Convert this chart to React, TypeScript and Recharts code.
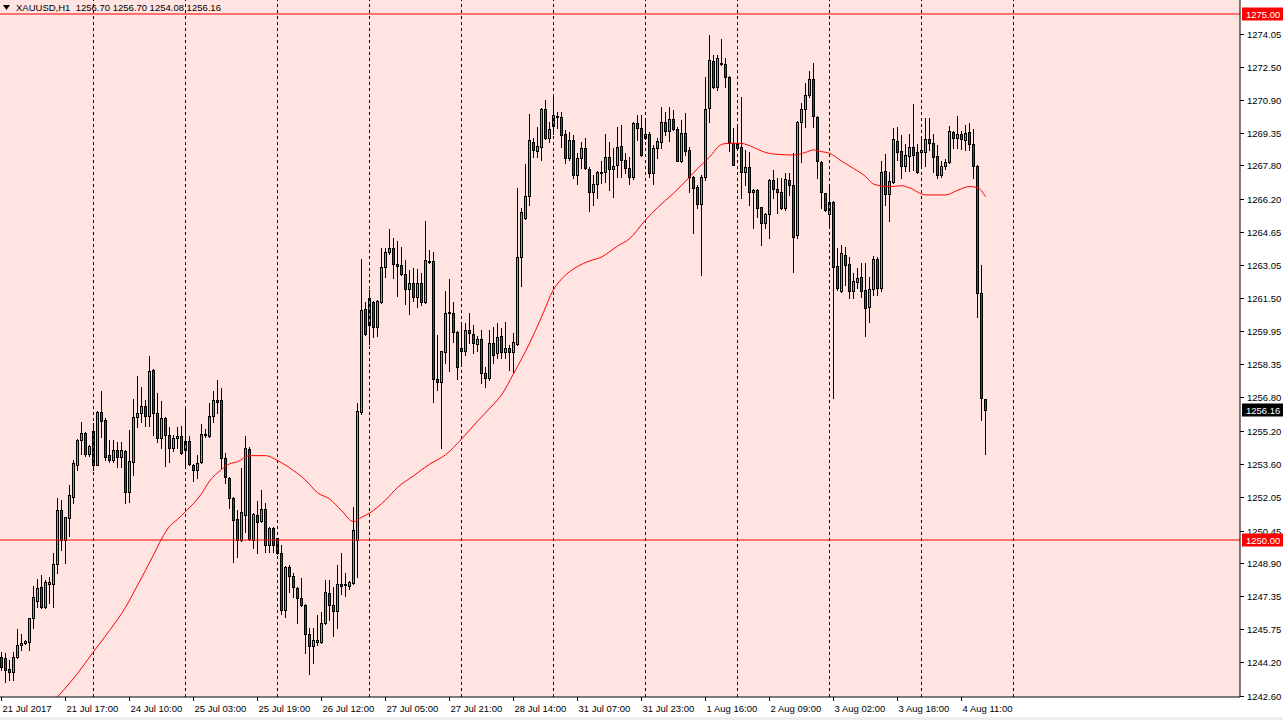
import {
    ComposedChart,
    Bar,
    Line,
    XAxis,
    YAxis,
    CartesianGrid,
    ReferenceLine,
} from "recharts";

// XAUUSD H1 candles (bar 0 = 21 Jul 2017 first bar)
const opens = [
    1244.45, 1244.38, 1243.87, 1243.74, 1244.43, 1245.00, 1245.09, 1245.17, 1246.28, 1247.12,
    1247.75, 1246.80, 1247.90, 1247.90, 1248.85, 1251.43, 1250.00, 1251.05, 1252.06, 1253.58,
    1254.75, 1255.09, 1254.09, 1255.18, 1253.58, 1256.08, 1255.70, 1254.02, 1253.80, 1254.28,
    1253.96, 1254.23, 1252.30, 1253.69, 1255.84, 1256.02, 1256.37, 1255.91, 1258.08, 1256.02,
    1254.83, 1255.80, 1254.99, 1254.35, 1254.83, 1254.94, 1254.28, 1254.73, 1253.56, 1253.31,
    1253.69, 1255.00, 1254.93, 1255.88, 1256.64, 1256.64, 1253.91, 1252.96, 1252.01, 1250.98,
    1250.00, 1251.19, 1254.31, 1250.00, 1251.18, 1250.92, 1251.46, 1249.77, 1250.56, 1250.08,
    1249.37, 1246.68, 1248.74, 1248.29, 1247.71, 1247.23, 1246.91, 1245.52, 1244.97, 1245.17,
    1245.17, 1246.04, 1247.47, 1246.91, 1246.65, 1247.89, 1247.86, 1247.83, 1247.98, 1250.00,
    1256.10, 1260.96, 1260.20, 1261.30, 1260.14, 1261.33, 1262.96, 1263.68, 1263.87, 1263.10,
    1263.07, 1262.63, 1261.92, 1262.20, 1261.54, 1262.20, 1261.33, 1263.26, 1263.26, 1257.64,
    1257.50, 1258.92, 1260.78, 1260.78, 1259.91, 1259.11, 1259.00, 1259.98, 1259.80, 1259.30,
    1259.56, 1257.93, 1257.69, 1259.35, 1258.87, 1259.70, 1258.95, 1259.14, 1258.92, 1259.30,
    1263.47, 1265.32, 1266.37, 1268.90, 1268.49, 1268.69, 1270.48, 1269.09, 1269.69, 1270.14,
    1270.12, 1269.28, 1268.14, 1269.01, 1267.35, 1268.14, 1268.62, 1267.63, 1266.56, 1266.90,
    1267.47, 1267.47, 1268.19, 1267.63, 1267.80, 1268.75, 1268.07, 1267.70, 1267.23, 1269.81,
    1269.57, 1269.10, 1269.29, 1267.43, 1268.62, 1268.94, 1269.86, 1269.44, 1270.00, 1269.52,
    1268.03, 1269.33, 1268.54, 1267.27, 1266.77, 1265.96, 1267.27, 1270.52, 1272.77, 1271.55,
    1272.66, 1272.61, 1272.02, 1268.86, 1268.86, 1268.69, 1267.51, 1267.71, 1266.52, 1266.63,
    1265.81, 1265.08, 1265.51, 1267.11, 1266.68, 1266.52, 1265.76, 1267.11, 1266.87, 1264.50,
    1269.85, 1270.48, 1271.15, 1271.91, 1270.12, 1267.98, 1266.48, 1265.48, 1266.08, 1263.04,
    1261.85, 1263.55, 1263.10, 1261.85, 1262.28, 1262.52, 1261.88, 1261.09, 1261.91, 1263.36,
    1261.99, 1267.54, 1266.43, 1267.00, 1268.96, 1268.49, 1267.79, 1268.27, 1268.70, 1268.43,
    1268.46, 1268.46, 1269.06, 1268.85, 1268.25, 1267.35, 1267.78, 1267.95, 1269.38, 1269.09,
    1269.28, 1269.01, 1269.38, 1268.81, 1267.78, 1261.72, 1256.70,
];

const highs = [
    1244.70, 1244.62, 1244.30, 1244.70, 1245.76, 1245.52, 1245.25, 1246.30, 1247.82, 1248.13,
    1248.34, 1248.10, 1248.26, 1249.40, 1251.98, 1251.90, 1251.09, 1252.61, 1253.80, 1254.78,
    1255.62, 1255.15, 1254.52, 1255.55, 1256.15, 1257.08, 1255.78, 1254.75, 1254.75, 1254.67,
    1254.67, 1254.28, 1255.23, 1256.70, 1257.81, 1257.29, 1256.65, 1258.76, 1258.12, 1256.97,
    1256.60, 1255.86, 1255.38, 1254.99, 1255.38, 1255.43, 1256.33, 1254.96, 1253.60, 1254.04,
    1255.50, 1255.27, 1256.49, 1257.08, 1257.60, 1257.21, 1254.12, 1253.01, 1252.05, 1251.42,
    1253.40, 1254.94, 1254.44, 1251.30, 1251.86, 1252.38, 1251.75, 1250.60, 1250.60, 1250.12,
    1249.77, 1248.78, 1248.82, 1248.42, 1247.78, 1248.19, 1246.95, 1245.81, 1245.81, 1246.44,
    1246.60, 1248.11, 1248.11, 1247.79, 1248.82, 1249.37, 1248.45, 1248.05, 1251.59, 1256.50,
    1263.34, 1261.33, 1261.90, 1261.35, 1261.40, 1263.90, 1263.90, 1264.78, 1264.34, 1264.21,
    1263.94, 1263.31, 1262.84, 1262.92, 1262.87, 1262.68, 1265.17, 1263.79, 1263.68, 1259.75,
    1259.00, 1261.84, 1262.41, 1261.33, 1259.95, 1260.30, 1260.30, 1260.78, 1260.22, 1259.72,
    1259.99, 1258.24, 1259.99, 1260.14, 1260.30, 1260.06, 1260.38, 1259.27, 1259.82, 1266.71,
    1265.76, 1267.86, 1270.23, 1269.09, 1269.65, 1270.52, 1270.91, 1269.88, 1271.15, 1270.36,
    1270.36, 1269.49, 1269.41, 1269.25, 1268.38, 1268.93, 1269.09, 1267.74, 1267.35, 1267.54,
    1268.01, 1269.28, 1268.93, 1268.65, 1269.65, 1269.73, 1268.38, 1268.22, 1269.89, 1270.20,
    1270.20, 1269.97, 1269.38, 1268.78, 1269.09, 1270.60, 1270.36, 1270.60, 1270.44, 1269.65,
    1269.97, 1270.28, 1268.70, 1267.30, 1266.88, 1267.35, 1272.02, 1274.00, 1273.05, 1273.05,
    1273.81, 1272.90, 1272.05, 1269.57, 1269.65, 1271.07, 1268.54, 1268.46, 1266.68, 1266.68,
    1265.85, 1265.52, 1267.15, 1267.58, 1267.22, 1267.19, 1267.43, 1267.43, 1268.38, 1269.90,
    1270.75, 1271.74, 1272.29, 1272.65, 1270.15, 1268.00, 1266.50, 1266.87, 1266.10, 1263.86,
    1264.02, 1263.94, 1263.47, 1262.67, 1262.91, 1263.15, 1263.15, 1262.52, 1263.52, 1263.47,
    1268.01, 1268.33, 1267.51, 1269.60, 1269.65, 1269.25, 1268.80, 1269.28, 1270.71, 1268.80,
    1269.09, 1270.07, 1270.04, 1269.28, 1268.77, 1268.01, 1268.11, 1269.69, 1269.44, 1270.17,
    1269.44, 1269.72, 1269.80, 1269.53, 1267.80, 1263.07, 1256.70,
];

const lows = [
    1243.80, 1243.27, 1243.35, 1243.35, 1244.38, 1244.77, 1245.06, 1244.77, 1245.80, 1246.80,
    1246.78, 1246.78, 1246.99, 1246.80, 1248.42, 1249.53, 1248.89, 1250.21, 1251.78, 1253.33,
    1254.09, 1253.99, 1253.99, 1253.33, 1253.55, 1254.91, 1253.80, 1253.72, 1253.72, 1253.49,
    1253.49, 1251.77, 1251.82, 1253.09, 1255.38, 1255.62, 1255.43, 1255.43, 1254.99, 1254.64,
    1254.39, 1253.53, 1253.72, 1254.23, 1254.35, 1254.10, 1253.56, 1253.56, 1252.80, 1252.93,
    1253.66, 1254.91, 1254.90, 1255.62, 1256.02, 1253.40, 1252.69, 1251.50, 1248.97, 1249.21,
    1249.95, 1250.40, 1249.98, 1249.61, 1249.40, 1250.85, 1249.45, 1249.45, 1249.45, 1249.35,
    1246.49, 1246.33, 1247.51, 1247.30, 1246.04, 1246.86, 1244.62, 1243.64, 1244.14, 1245.01,
    1245.09, 1246.00, 1246.20, 1245.44, 1245.80, 1247.44, 1247.34, 1247.66, 1247.90, 1248.23,
    1256.00, 1259.74, 1259.30, 1259.67, 1259.72, 1261.25, 1262.52, 1263.58, 1262.47, 1261.62,
    1262.60, 1261.20, 1260.73, 1261.36, 1261.09, 1261.17, 1261.28, 1263.15, 1256.55, 1257.13,
    1254.39, 1258.40, 1258.01, 1259.43, 1257.64, 1258.32, 1258.80, 1259.35, 1258.88, 1258.96,
    1257.45, 1257.29, 1257.61, 1258.40, 1258.64, 1258.67, 1258.64, 1258.08, 1258.00, 1259.25,
    1262.09, 1265.25, 1265.92, 1268.22, 1268.22, 1268.06, 1269.05, 1268.93, 1269.28, 1269.57,
    1268.69, 1267.90, 1268.06, 1267.19, 1266.90, 1267.67, 1267.63, 1265.64, 1265.92, 1266.24,
    1266.95, 1267.03, 1266.64, 1266.32, 1267.27, 1267.27, 1267.43, 1266.91, 1267.16, 1269.01,
    1268.25, 1269.05, 1267.27, 1266.91, 1268.14, 1268.62, 1269.25, 1268.97, 1269.49, 1267.99,
    1267.95, 1268.30, 1266.56, 1264.58, 1265.80, 1262.60, 1267.11, 1269.85, 1271.50, 1271.39,
    1272.58, 1271.55, 1268.49, 1267.80, 1268.60, 1266.27, 1266.87, 1265.92, 1264.84, 1265.37,
    1264.02, 1264.81, 1264.37, 1266.24, 1265.53, 1265.73, 1265.68, 1266.40, 1262.75, 1264.37,
    1267.95, 1269.64, 1271.07, 1269.64, 1267.22, 1265.80, 1265.65, 1264.97, 1256.77, 1261.90,
    1261.80, 1262.12, 1261.49, 1261.52, 1261.96, 1261.57, 1259.71, 1260.38, 1261.65, 1261.65,
    1261.84, 1265.92, 1265.16, 1266.95, 1268.06, 1267.22, 1267.54, 1267.54, 1267.59, 1267.43,
    1267.82, 1267.79, 1268.54, 1267.51, 1267.19, 1267.27, 1267.63, 1267.90, 1268.62, 1268.62,
    1268.58, 1268.54, 1268.54, 1267.19, 1260.62, 1255.71, 1254.08,
];

const closes = [
    1243.95, 1243.82, 1243.74, 1244.43, 1245.00, 1245.09, 1245.20, 1246.28, 1247.28, 1247.70,
    1246.80, 1247.99, 1247.99, 1248.85, 1251.43, 1250.00, 1251.09, 1252.12, 1253.66, 1254.75,
    1255.09, 1254.09, 1254.47, 1253.58, 1256.08, 1255.67, 1253.96, 1253.80, 1254.28, 1253.96,
    1254.28, 1252.30, 1253.75, 1255.84, 1256.02, 1256.37, 1255.91, 1258.03, 1256.02, 1254.83,
    1255.80, 1254.99, 1254.35, 1254.83, 1254.94, 1254.12, 1254.73, 1253.59, 1253.31, 1253.64,
    1255.02, 1255.05, 1255.88, 1256.64, 1256.54, 1253.88, 1253.01, 1252.01, 1250.93, 1250.00,
    1251.31, 1254.39, 1250.05, 1251.24, 1250.87, 1251.46, 1249.77, 1250.56, 1249.77, 1249.37,
    1246.68, 1248.74, 1248.29, 1247.75, 1247.23, 1246.91, 1245.52, 1244.97, 1245.25, 1245.25,
    1246.04, 1247.52, 1246.91, 1246.65, 1247.89, 1247.83, 1247.90, 1248.01, 1250.48, 1256.15,
    1260.93, 1259.78, 1261.50, 1260.11, 1261.36, 1262.96, 1263.68, 1263.87, 1263.10, 1263.04,
    1262.63, 1261.92, 1262.23, 1261.54, 1262.20, 1261.33, 1263.31, 1263.20, 1257.64, 1257.50,
    1258.96, 1260.78, 1260.83, 1259.87, 1258.24, 1259.00, 1259.98, 1259.83, 1259.35, 1259.56,
    1257.93, 1257.69, 1259.35, 1258.80, 1259.67, 1258.95, 1259.14, 1258.92, 1259.40, 1263.44,
    1265.57, 1266.37, 1269.01, 1268.54, 1268.73, 1270.48, 1269.09, 1269.53, 1270.20, 1270.09,
    1269.25, 1268.14, 1269.01, 1267.35, 1268.14, 1268.62, 1267.67, 1266.56, 1266.90, 1267.47,
    1267.43, 1268.19, 1267.63, 1267.77, 1268.70, 1268.07, 1267.70, 1267.23, 1269.81, 1269.57,
    1268.30, 1269.29, 1267.43, 1268.62, 1268.97, 1269.89, 1269.44, 1270.00, 1269.52, 1268.03,
    1269.33, 1268.49, 1267.27, 1266.72, 1265.96, 1267.27, 1270.47, 1272.82, 1271.55, 1272.90,
    1272.61, 1272.02, 1268.86, 1267.83, 1268.65, 1267.47, 1267.71, 1266.56, 1266.63, 1265.80,
    1265.05, 1265.48, 1267.11, 1266.67, 1266.52, 1265.76, 1267.16, 1266.87, 1264.42, 1269.85,
    1270.48, 1271.15, 1271.91, 1270.17, 1268.01, 1266.52, 1265.68, 1266.08, 1262.99, 1261.96,
    1263.63, 1263.07, 1261.85, 1262.31, 1262.47, 1261.85, 1261.04, 1261.91, 1263.36, 1261.99,
    1267.47, 1266.43, 1267.06, 1269.06, 1268.46, 1267.79, 1268.30, 1268.70, 1268.30, 1267.47,
    1268.54, 1269.06, 1268.85, 1268.22, 1267.35, 1267.78, 1267.95, 1269.44, 1269.12, 1269.28,
    1269.04, 1269.33, 1268.81, 1267.78, 1261.72, 1256.77, 1256.16,
];

// red moving average, read at [bar index, price]
const maPoints: [number, number][] = [
    [13, 1242.35], [16, 1242.97], [19, 1243.66], [23, 1244.69], [27, 1245.70], [31, 1246.80],
    [34, 1247.85], [38, 1249.29], [40, 1250.05], [42, 1250.65], [44, 1250.98], [46, 1251.35],
    [50, 1252.20], [52, 1252.80], [55, 1253.35], [57, 1253.62], [59, 1253.72], [62, 1254.01],
    [66, 1254.01], [69, 1253.78], [73, 1253.30], [76, 1252.85], [79, 1252.25], [82, 1251.95],
    [85, 1251.40], [88, 1250.87], [90, 1251.08], [92, 1251.28], [96, 1251.90], [99, 1252.50],
    [103, 1253.05], [107, 1253.60], [111, 1254.05], [115, 1254.80], [119, 1255.65], [123, 1256.45],
    [125, 1256.90], [128, 1257.90], [132, 1259.35], [135, 1260.60], [138, 1261.90], [140, 1262.40],
    [144, 1263.00], [147, 1263.26], [150, 1263.45], [152, 1263.70], [154, 1263.97], [157, 1264.32],
    [161, 1265.21], [164, 1265.80], [168, 1266.48], [172, 1267.25], [174, 1267.65], [177, 1268.20],
    [180, 1268.80], [182, 1268.86], [185, 1268.85], [188, 1268.66], [191, 1268.42], [194, 1268.33],
    [198, 1268.30], [201, 1268.42], [203, 1268.54], [205, 1268.46], [207, 1268.38], [210, 1268.01],
    [213, 1267.66], [216, 1267.28], [218, 1266.92], [222, 1266.79], [225, 1266.84], [227, 1266.74],
    [231, 1266.40], [236, 1266.40], [239, 1266.62], [242, 1266.80], [244, 1266.75], [246, 1266.32],
];

const timeTicks = [0, 16, 32, 48, 64, 80, 96, 112, 128, 144, 160, 176, 192, 208, 224, 240];
const timeLabels = [
    "21 Jul 2017", "21 Jul 17:00", "24 Jul 10:00", "25 Jul 03:00", "25 Jul 19:00", "26 Jul 12:00",
    "27 Jul 05:00", "27 Jul 21:00", "28 Jul 14:00", "31 Jul 07:00", "31 Jul 23:00", "1 Aug 16:00",
    "2 Aug 09:00", "3 Aug 02:00", "3 Aug 18:00", "4 Aug 11:00",
];
const gridBars = [23, 46, 69, 92, 115, 138, 161, 184, 207, 230, 253];

const priceTicks = [
    1274.05, 1272.50, 1270.90, 1269.35, 1267.80, 1266.20, 1264.65, 1263.05, 1261.50, 1259.95,
    1258.35, 1256.80, 1255.20, 1253.60, 1252.05, 1250.45, 1248.90, 1247.35, 1245.75, 1244.20,
    1242.60,
];
const levelLines = [1275.0, 1250.0];
const lastPrice = 1256.16;

const W = 1283;
const H = 720;
const AXIS_W = 43;
const AXIS_H = 23;
const PLOT_R = W - AXIS_W;
const PLOT_B = H - AXIS_H;
const FONT = "'Liberation Sans', Arial, sans-serif";
const FS = 9.5;

const maMap = new Map(maPoints);
const data = opens.map((o, i) => ({
    idx: i,
    open: o,
    close: closes[i],
    high: Math.max(highs[i], o, closes[i]),
    low: Math.min(lows[i], o, closes[i]),
    range: [Math.min(lows[i], o, closes[i]), Math.max(highs[i], o, closes[i])],
    ma: maMap.has(i) ? maMap.get(i) : null,
}));

const Candle = (props: any) => {
    const { x, y, width, height, payload } = props;
    if (x == null || y == null) return null;
    const { open, close, high, low } = payload;
    const cx = Math.floor(x + width / 2) + 0.5;
    const k = high === low ? 0 : height / (high - low);
    const yo = y + (high - open) * k;
    const yc = y + (high - close) * k;
    const top = Math.round(Math.min(yo, yc));
    const bot = Math.round(Math.max(yo, yc));
    return (
        <g>
            <line x1={cx} x2={cx} y1={Math.round(y)} y2={Math.round(y + height) + 1} stroke="#000" />
            <rect
                x={cx - 1}
                y={top + 0.5}
                width={2}
                height={Math.max(bot - top, 1)}
                fill={close >= open ? "#00FF00" : "#FF0000"}
                stroke="#000"
            />
        </g>
    );
};

const TimeTick = (props: any) => {
    const { x, payload } = props;
    const label = timeLabels[timeTicks.indexOf(payload.value)];
    const px = Math.floor(x) + 0.5;
    return (
        <g>
            <line x1={px} x2={px} y1={PLOT_B} y2={PLOT_B + 4} stroke="#000" />
            <text x={px + 1} y={PLOT_B + 15} fontSize={FS} fontFamily={FONT} fill="#000" textAnchor="start">
                {label}
            </text>
        </g>
    );
};

const PriceTick = (props: any) => {
    const { y, payload } = props;
    const v = payload.value;
    const py = Math.round(y) + 0.5;
    const txt = v.toFixed(2);
    if (levelLines.includes(v) || v === lastPrice) {
        return (
            <g>
                <rect x={PLOT_R + 2} y={py - 7} width={W - PLOT_R - 2} height={13} fill={v === lastPrice ? "#000" : "#FF0000"} />
                <text x={PLOT_R + 6} y={py + 3.5} fontSize={FS} fontFamily={FONT} fill="#fff">
                    {txt}
                </text>
            </g>
        );
    }
    return (
        <g>
            <line x1={PLOT_R} x2={PLOT_R + 4} y1={py} y2={py} stroke="#000" />
            <text x={PLOT_R + 7} y={py + 3.5} fontSize={FS} fontFamily={FONT} fill="#000">
                {txt}
            </text>
        </g>
    );
};

const App = () => {
    return (
        <div style={{ position: "absolute", left: 0, top: 0, width: W, height: H, background: "#fff" }}>
            <ComposedChart
                width={W}
                height={H}
                data={data}
                margin={{ top: 0, right: 0, left: 0, bottom: 0 }}
            >
                <CartesianGrid horizontal={false} vertical={false} fill="#FFE4E1" stroke="none" />
                <XAxis
                    type="number"
                    dataKey="idx"
                    domain={[-0.375, 309.625]}
                    allowDataOverflow
                    ticks={timeTicks}
                    interval={0}
                    tick={(p: any) => <TimeTick {...p} />}
                    tickLine={false}
                    axisLine={{ stroke: "#000" }}
                    height={AXIS_H}
                />
                <YAxis
                    orientation="right"
                    domain={[1242.54, 1275.665]}
                    allowDataOverflow
                    ticks={[...priceTicks, lastPrice, ...levelLines]}
                    interval={0}
                    tick={(p: any) => <PriceTick {...p} />}
                    tickLine={false}
                    axisLine={{ stroke: "#000" }}
                    width={AXIS_W}
                />
                {gridBars.map((b) => (
                    <ReferenceLine key={b} x={b} stroke="#000" strokeDasharray="3 3" ifOverflow="visible" />
                ))}
                <Bar
                    dataKey="range"
                    barSize={3}
                    shape={(p: any) => <Candle {...p} />}
                    isAnimationActive={false}
                />
                <Line
                    dataKey="ma"
                    type="monotone"
                    stroke="#FF0000"
                    strokeWidth={1}
                    dot={false}
                    connectNulls
                    isAnimationActive={false}
                />
                {levelLines.map((l) => (
                    <ReferenceLine key={l} y={l} stroke="#FF0000" />
                ))}
            </ComposedChart>
            <div
                style={{
                    position: "absolute",
                    left: 3,
                    top: 2,
                    fontFamily: FONT,
                    fontSize: FS,
                    lineHeight: "12px",
                    whiteSpace: "pre",
                    color: "#000",
                    display: "flex",
                    alignItems: "center",
                }}
            >
                <svg width={8} height={6} style={{ marginRight: 5 }}>
                    <polygon points="0,0 7,0 3.5,5" fill="#000" />
                </svg>
                <span>XAUUSD,H1  1256.70 1256.70 1254.08 1256.16</span>
            </div>
            <div style={{ position: "absolute", left: 0, top: H - 3, width: W, height: 3, background: "#EEEEEE" }} />
        </div>
    );
};

export default App;
